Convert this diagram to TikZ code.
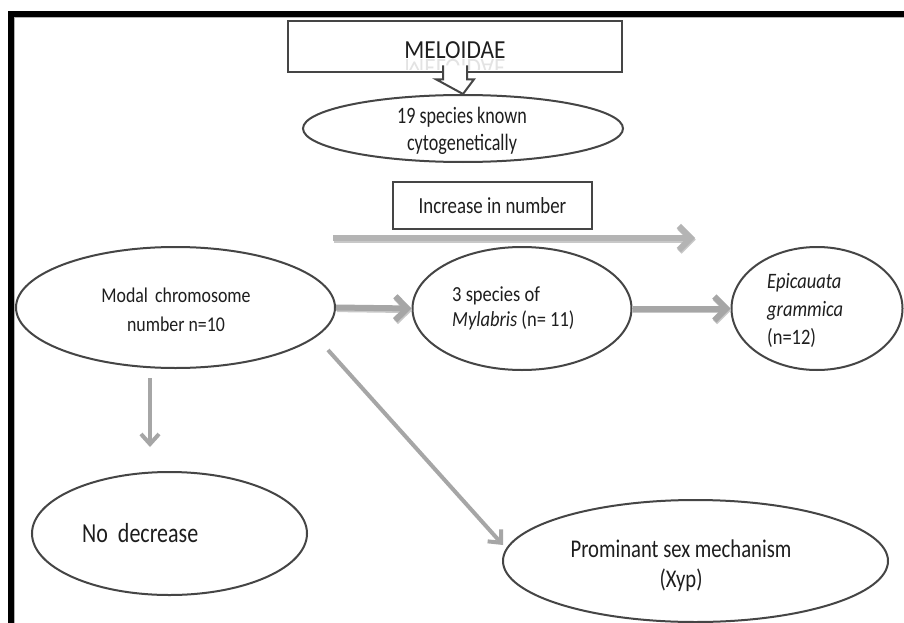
\documentclass[tikz,border=0pt]{standalone}
\usepackage{fontspec}
\setmainfont{Carlito}
\usetikzlibrary{shapes.geometric,arrows.meta,calc}
\newcommand\fsz[3]{\fontsize{#1}{#3}\selectfont\addfontfeature{FakeStretch=#2}}
\definecolor{edge}{HTML}{454545}
\definecolor{arr}{HTML}{A6A6A6}
\definecolor{arrlight}{HTML}{B4B4B4}
\definecolor{arrshade}{HTML}{C8C8C8}
\definecolor{ink}{HTML}{1E1E1E}
\begin{document}
\begin{tikzpicture}[x=1pt,y=-1pt,
  oval/.style={draw=edge,line width=2pt,ellipse,inner sep=0pt,fill=white},
  boxnode/.style={draw=edge,line width=2.6pt,rectangle,inner sep=0pt,fill=white},
  txt/.style={text=ink,inner sep=0pt},
  thickarrow/.style={draw=arr,line width=6pt,-{Straight Barb[length=12pt,width=24pt]}},
  thinarrow/.style={draw=arr,line width=4pt,-{Straight Barb[length=10pt,width=18pt]}}
]
\useasboundingbox (0,0) rectangle (904,623);
\fill[white] (0,0) rectangle (904,623);
% frame
\fill[black] (8,11) rectangle (904,17);
\fill[black] (8,11) rectangle (14,623);
\draw[gray!60,line width=0.8pt] (14.4,17.4) -- (904,17.4);
\draw[gray!60,line width=0.8pt] (14.4,17.4) -- (14.4,623);

% nodes
\node[boxnode,minimum width=334pt,minimum height=51pt] (melo) at (455,46.5) {};
\begin{scope}
  \clip (290,23) rectangle (620,70);
  \node[txt,text=gray!22,anchor=base,font=\fsz{26}{0.9}{30}] (melorefl) at (455,59.5) {\scalebox{1}[-1]{MELOIDAE}};
\end{scope}
\node[txt,font=\fsz{26}{0.9}{30}] (melot) at (455,50) {MELOIDAE};

\node[oval,minimum width=320pt,minimum height=67pt] (sp19) at (463,128.5) {};
\node[txt,align=center,font=\fsz{23.5}{0.77}{27}] (sp19t) at (462,131) {19 species known\\cytogenetically};

% hollow block arrow
\path[fill=white,draw=edge,line width=2pt,line join=miter]
  ($(melo.south)+(-12,-8)$) -- ($(melo.south)+(-12,6)$) -- ($(melo.south)+(-19,6)$)
  -- (sp19.north) -- ($(melo.south)+(19,6)$) -- ($(melo.south)+(12,6)$) -- ($(melo.south)+(12,-8)$);

\node[boxnode,minimum width=199pt,minimum height=47pt] (incr) at (492.5,205.5) {};
\node[txt,font=\fsz{23}{0.82}{27}] (incrt) at (492.5,205.5) {Increase in number};

\node[oval,minimum width=319pt,minimum height=121pt] (modal) at (175.5,307.5) {};
\node[txt,align=center,font=\fsz{21}{0.85}{29}] (modalt) at (176,310) {Modal\hspace{3pt} chromosome\\number n=10};

\node[oval,minimum width=219pt,minimum height=123pt] (myl) at (522,308.5) {};
\node[txt,align=left,anchor=west,font=\fsz{21.5}{0.86}{25}] (mylt) at (452,308.5) {3 species of\\\textit{Mylabris} (n= 11)};

\node[oval,minimum width=171pt,minimum height=123pt] (epi) at (817,308.5) {};
\node[txt,align=left,anchor=west,font=\fsz{22}{0.84}{28}] (epit) at (767,310) {\textit{Epicauata}\\\textit{grammica}\\(n=12)};

\node[oval,minimum width=275pt,minimum height=123pt] (nodec) at (169.5,533.5) {};
\node[txt,anchor=west,font=\fsz{27.5}{0.8}{30}] (nodect) at (82,533.5) {No\hspace{5pt} decrease};

\node[oval,minimum width=385pt,minimum height=122pt] (prom) at (695.5,561) {};
\node[txt,align=center,font=\fsz{25.5}{0.81}{30}] (promt) at (681,566) {Prominant sex mechanism\\(Xyp)};

% free-end coordinates
\coordinate (topS) at (333,238);
\coordinate (topE) at (695,238);
\coordinate (downS) at (150,378);
\coordinate (downE) at (150,447);
\coordinate (diagS) at (328,350);
\coordinate (diagE) at (503,545);

% connectors (light shade beneath, then arrow)
\draw[thickarrow,draw=arrshade,transform canvas={shift={(0.8pt,-1.6pt)}}] (topS) -- (topE);
\draw[thickarrow,draw=arrlight] (topS) -- (topE);
\draw[thickarrow,draw=arrshade,transform canvas={shift={(0.8pt,-1.6pt)}}] (modal.east) -- (myl.west);
\draw[thickarrow] (modal.east) -- (myl.west);
\draw[thickarrow,draw=arrshade,transform canvas={shift={(0.8pt,-1.6pt)}}] (myl.east) -- (epi.west);
\draw[thickarrow] (myl.east) -- (epi.west);
\draw[thinarrow] (downS) -- (downE);
\draw[thinarrow] (diagS) -- (diagE);
\end{tikzpicture}
\end{document}
